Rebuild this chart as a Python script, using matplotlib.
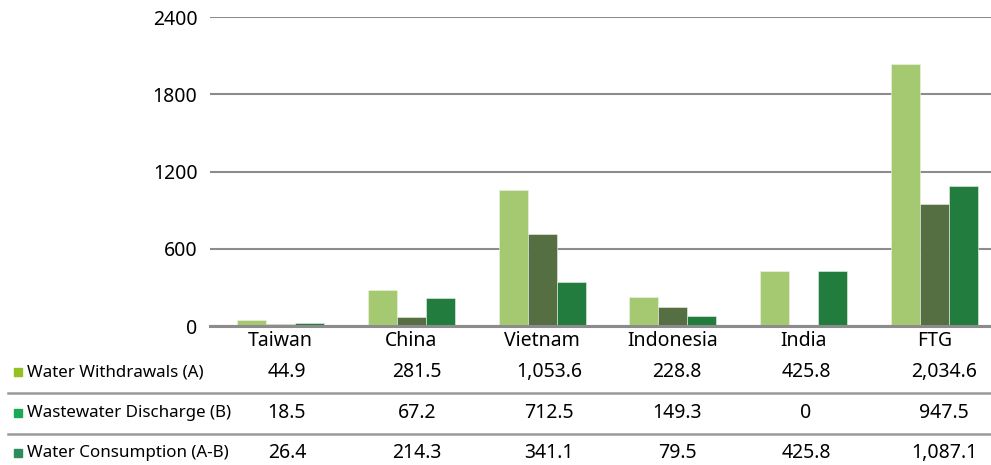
import matplotlib
matplotlib.use("Agg")
import matplotlib.pyplot as plt
import matplotlib.transforms as mtransforms
from matplotlib.patches import Rectangle
from matplotlib.lines import Line2D
import numpy as np

plt.rcParams['font.family'] = ['Noto Sans', 'DejaVu Sans']

categories = ["Taiwan", "China", "Vietnam", "Indonesia", "India", "FTG"]
withdrawals = [44.9, 281.5, 1053.6, 228.8, 425.8, 2034.6]
discharge = [18.5, 67.2, 712.5, 149.3, 0, 947.5]
consumption = [26.4, 214.3, 341.1, 79.5, 425.8, 1087.1]
series_names = ["Water Withdrawals (A)", "Wastewater Discharge (B)", "Water Consumption (A-B)"]
yticks = [0, 600, 1200, 1800, 2400]

bar_colors = ["#a5c971", "#556e42", "#217c3e"]
key_colors = ["#94c11f", "#1aaa55", "#2e8b5e"]

W, H = 991, 465
fig = plt.figure(figsize=(W / 100, H / 100), dpi=100)

def fx(px):
    return px / W

def fy(py):
    return 1 - py / H

ax = fig.add_axes([fx(210), fy(326), fx(991) - fx(210), fy(17) - fy(326)])
ax.set_xlim(-0.539, 5.432)
ax.set_ylim(0, 2400)

x = np.arange(len(categories))
bw = 0.222
for k, vals in enumerate([withdrawals, discharge, consumption]):
    ax.bar(x + (k - 1) * bw, vals, width=bw, color=bar_colors[k],
           edgecolor="#eef4e6", linewidth=0.4, zorder=3)

ax.set_yticks(yticks)
ax.set_yticklabels([str(t) for t in yticks], fontsize=14)
ax.tick_params(axis="y", length=0, pad=9)
ax.set_xticks([])
ax.grid(axis="y", color="#8c8c8c", linewidth=1.5, zorder=0)
ax.axhline(0, color="#8c8c8c", linewidth=2.2, zorder=4, clip_on=False)
for s in ax.spines.values():
    s.set_visible(False)

trans = mtransforms.blended_transform_factory(ax.transData, fig.transFigure)

# category names under the bars
for i, c in enumerate(categories):
    fig.text(i, fy(341), c, transform=trans, ha="center", va="center", fontsize=14)

# data table beneath the chart; its columns sit slightly right of the bar groups
col_px = [287, 417, 549, 677, 806, 944]
row_y = [372, 413, 453]
for r, (name, vals) in enumerate(zip(series_names, [withdrawals, discharge, consumption])):
    fig.patches.append(Rectangle((fx(14), fy(row_y[r] + 4)), fx(8), fx(8) * W / H,
                                 transform=fig.transFigure, color=key_colors[r]))
    fig.text(fx(27), fy(row_y[r]), name, ha="left", va="center", fontsize=12.2)
    for i, v in enumerate(vals):
        label = f"{v:,.1f}" if v != 0 else "0"
        fig.text(fx(col_px[i]), fy(row_y[r]), label, ha="center", va="center", fontsize=14)

for ly in [392.5, 433.5]:
    fig.lines.append(Line2D([fx(8), 1], [fy(ly), fy(ly)], transform=fig.transFigure,
                            color="#999999", linewidth=1.8))

fig.savefig("out.png", dpi=100)
